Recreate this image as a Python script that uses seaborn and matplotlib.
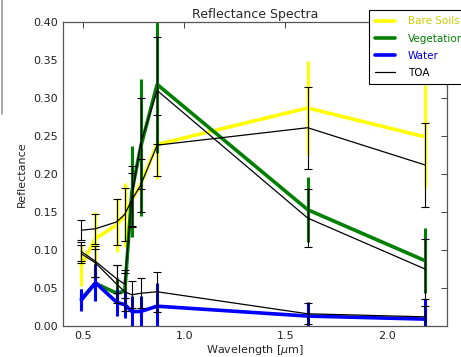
import numpy as np
import pandas as pd
import matplotlib
matplotlib.use("Agg")
import matplotlib.pyplot as plt
import seaborn as sns
from matplotlib.lines import Line2D

# ---- data ----
wavelengths = [0.49, 0.56, 0.665, 0.705, 0.74, 0.783, 0.865, 1.61, 2.19]

soil = [0.080, 0.115, 0.133, 0.146, 0.166, 0.186, 0.239, 0.287, 0.249]
soil_err = [0.028, 0.035, 0.035, 0.042, 0.040, 0.040, 0.045, 0.062, 0.068]
toa_soil = [0.126, 0.128, 0.137, 0.147, 0.166, 0.185, 0.238, 0.261, 0.212]
toa_soil_err = [0.013, 0.020, 0.030, 0.035, 0.035, 0.035, 0.040, 0.054, 0.055]

veg = [0.036, 0.056, 0.043, 0.046, 0.177, 0.235, 0.318, 0.153, 0.086]
veg_err = [0.012, 0.020, 0.020, 0.020, 0.060, 0.090, 0.090, 0.043, 0.043]
toa_veg = [0.098, 0.085, 0.062, 0.055, 0.170, 0.240, 0.310, 0.142, 0.075]
toa_veg_err = [0.013, 0.020, 0.018, 0.018, 0.040, 0.060, 0.070, 0.038, 0.040]

water = [0.034, 0.057, 0.031, 0.028, 0.019, 0.019, 0.026, 0.013, 0.009]
water_err = [0.014, 0.024, 0.018, 0.018, 0.020, 0.020, 0.030, 0.018, 0.027]
toa_water = [0.095, 0.083, 0.055, 0.045, 0.041, 0.043, 0.045, 0.016, 0.012]
toa_water_err = [0.012, 0.018, 0.025, 0.025, 0.018, 0.020, 0.026, 0.014, 0.014]

labels = ["Bare Soils", "Vegetation", "Water", "TOA"]
colors = ["#ffff00", "#008000", "#0000ff", "#000000"]

sns.set_style("white")
plt.rcParams["font.family"] = ["DejaVu Sans"]

fig = plt.figure(figsize=(4.61, 3.57), dpi=100)
ax = fig.add_axes([0.137, 0.087, 0.833, 0.851])

groups = [
    (soil, soil_err, toa_soil, toa_soil_err, colors[0]),
    (veg, veg_err, toa_veg, toa_veg_err, colors[1]),
    (water, water_err, toa_water, toa_water_err, colors[2]),
]

for cls, cls_err, toa, toa_err, col in groups:
    df = pd.DataFrame({"wl": wavelengths, "r": cls})
    sns.lineplot(data=df, x="wl", y="r", color=col, lw=2.6, ax=ax,
                 legend=False, zorder=2)
    ax.errorbar(wavelengths, cls, yerr=cls_err, fmt="none", ecolor=col,
                elinewidth=2.2, capsize=0, zorder=2)
    dft = pd.DataFrame({"wl": wavelengths, "r": toa})
    sns.lineplot(data=dft, x="wl", y="r", color="black", lw=0.9, ax=ax,
                 legend=False, zorder=3)
    ax.errorbar(wavelengths, toa, yerr=toa_err, fmt="none", ecolor="black",
                elinewidth=0.8, capsize=3, capthick=0.8, zorder=3)

ax.set_xlim(0.4, 2.3)
ax.set_ylim(0.0, 0.40)
ax.set_xticks([0.5, 1.0, 1.5, 2.0])
ax.set_yticks(np.arange(0, 0.401, 0.05))
ax.set_yticklabels([f"{v:.2f}" for v in np.arange(0, 0.401, 0.05)])
ax.tick_params(direction="in", top=True, right=True, length=4, width=0.6,
               labelsize=8, colors="#222222", pad=4)
for s in ax.spines.values():
    s.set_color("#555555")
    s.set_linewidth(0.9)

ax.set_xlabel("Wavelength [$\\mu$m]", fontsize=8, labelpad=1)
ax.set_ylabel("Reflectance", fontsize=8, labelpad=4)
ax.set_title("Reflectance Spectra", fontsize=9, pad=3)

handles = [Line2D([], [], color=colors[0], lw=2.6),
           Line2D([], [], color=colors[1], lw=2.6),
           Line2D([], [], color=colors[2], lw=2.6),
           Line2D([], [], color="black", lw=0.9)]
leg = ax.legend(handles, labels, loc="upper left", bbox_to_anchor=(0.797, 1.04),
                borderaxespad=0, fontsize=7.5, frameon=True, fancybox=False,
                framealpha=1, edgecolor="black", handlelength=1.9,
                handletextpad=1.2, borderpad=0.6, labelspacing=0.7)
leg.get_frame().set_linewidth(0.8)
for txt, col in zip(leg.get_texts(), ["#cccc00", "#008000", "#0000cc", "#000000"]):
    txt.set_color(col)

# scan artifact at left edge
fig.add_artist(Line2D([0.004, 0.004], [0.68, 1.0], transform=fig.transFigure,
                      color="#999999", lw=1.2))

fig.savefig("out.png", dpi=100)
